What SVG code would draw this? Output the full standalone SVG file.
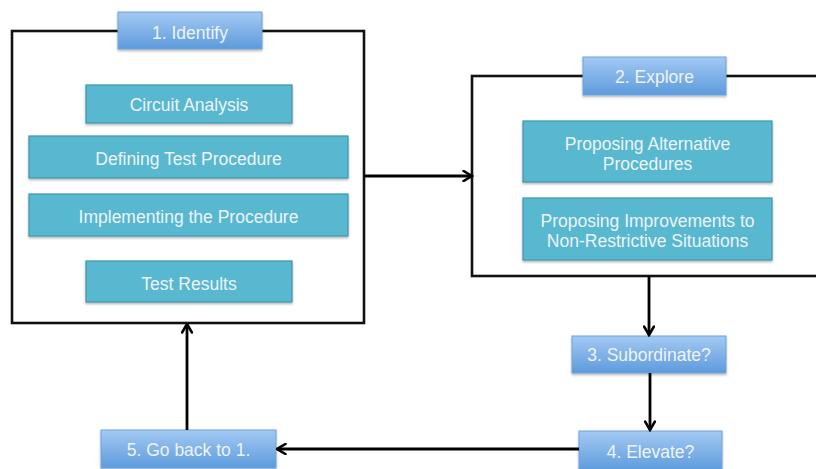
<svg xmlns="http://www.w3.org/2000/svg" width="816" height="469" viewBox="0 0 816 469">
  <defs>
    <linearGradient id="blueGrad" x1="0" y1="0" x2="0" y2="1">
      <stop offset="0" stop-color="#a3c9f3"/>
      <stop offset="1" stop-color="#5d9bdc"/>
    </linearGradient>
    <filter id="shadow" x="-10%" y="-10%" width="120%" height="140%">
      <feDropShadow dx="0" dy="1.5" stdDeviation="1.2" flood-color="#000" flood-opacity="0.3"/>
    </filter>
    <marker id="arrow" viewBox="0 0 12 12" refX="10.5" refY="6" markerWidth="12" markerHeight="12" markerUnits="userSpaceOnUse" orient="auto">
      <path d="M2,1 L10.5,6 L2,11" fill="none" stroke="#000" stroke-width="2.6" stroke-linecap="round" stroke-linejoin="miter"/>
    </marker>
  </defs>
  <style>
    .container { fill: #fff; stroke: #111; stroke-width: 2.6; }
    .teal { fill: #58b8d0; stroke: #3d97ae; stroke-width: 1.2; filter: url(#shadow); }
    .tab { fill: url(#blueGrad); stroke: #6ea3dc; stroke-width: 1; filter: url(#shadow); }
    .label { font-family: "Liberation Sans", Arial, sans-serif; font-size: 17.5px; fill: #eef4fa; text-anchor: middle; }
    .conn { fill: none; stroke: #000; stroke-width: 2.8; }
  </style>

  <rect width="816" height="469" fill="#fff"/>

  <g id="identify">
    <rect class="container" x="12" y="31" width="352" height="292"/>
    <rect class="tab" x="118" y="12" width="144" height="37"/>
    <text class="label" x="190" y="39">1. Identify</text>
  </g>
  <g id="circuit-analysis">
    <rect class="teal" x="86" y="85" width="206" height="38"/>
    <text class="label" x="189" y="111">Circuit Analysis</text>
  </g>
  <g id="defining-test-procedure">
    <rect class="teal" x="29" y="136" width="319" height="42"/>
    <text class="label" x="188.5" y="165">Defining Test Procedure</text>
  </g>
  <g id="implementing-procedure">
    <rect class="teal" x="29" y="194" width="319" height="42"/>
    <text class="label" x="188.5" y="223">Implementing the Procedure</text>
  </g>
  <g id="test-results">
    <rect class="teal" x="86" y="261" width="206" height="41"/>
    <text class="label" x="189" y="290">Test Results</text>
  </g>

  <g id="explore">
    <rect class="container" x="472" y="76" width="400" height="200"/>
    <rect class="tab" x="583" y="57" width="143" height="38"/>
    <text class="label" x="654.5" y="83">2. Explore</text>
  </g>
  <g id="proposing-alternative">
    <rect class="teal" x="523" y="121" width="249" height="61"/>
    <text class="label" x="647.5" y="150">Proposing Alternative</text>
    <text class="label" x="647.5" y="170">Procedures</text>
  </g>
  <g id="proposing-improvements">
    <rect class="teal" x="523" y="198" width="249" height="62"/>
    <text class="label" x="647.5" y="227">Proposing Improvements to</text>
    <text class="label" x="647.5" y="247">Non-Restrictive Situations</text>
  </g>

  <g id="subordinate">
    <rect class="tab" x="572" y="336" width="154" height="37"/>
    <text class="label" x="649" y="361">3. Subordinate?</text>
  </g>
  <g id="elevate">
    <rect class="tab" x="579" y="431" width="143" height="40"/>
    <text class="label" x="650.5" y="458">4. Elevate?</text>
  </g>
  <g id="go-back">
    <rect class="tab" x="101" y="430" width="175" height="38"/>
    <text class="label" x="188.5" y="456">5. Go back to 1.</text>
  </g>

  <g id="connectors">
    <line class="conn" x1="364" y1="176" x2="472" y2="176" marker-end="url(#arrow)"/>
    <line class="conn" x1="649" y1="276" x2="649" y2="335" marker-end="url(#arrow)"/>
    <line class="conn" x1="650" y1="373" x2="650" y2="430" marker-end="url(#arrow)"/>
    <line class="conn" x1="579" y1="449" x2="277" y2="449" marker-end="url(#arrow)"/>
    <line class="conn" x1="187" y1="430" x2="187" y2="324" marker-end="url(#arrow)"/>
  </g>
</svg>
